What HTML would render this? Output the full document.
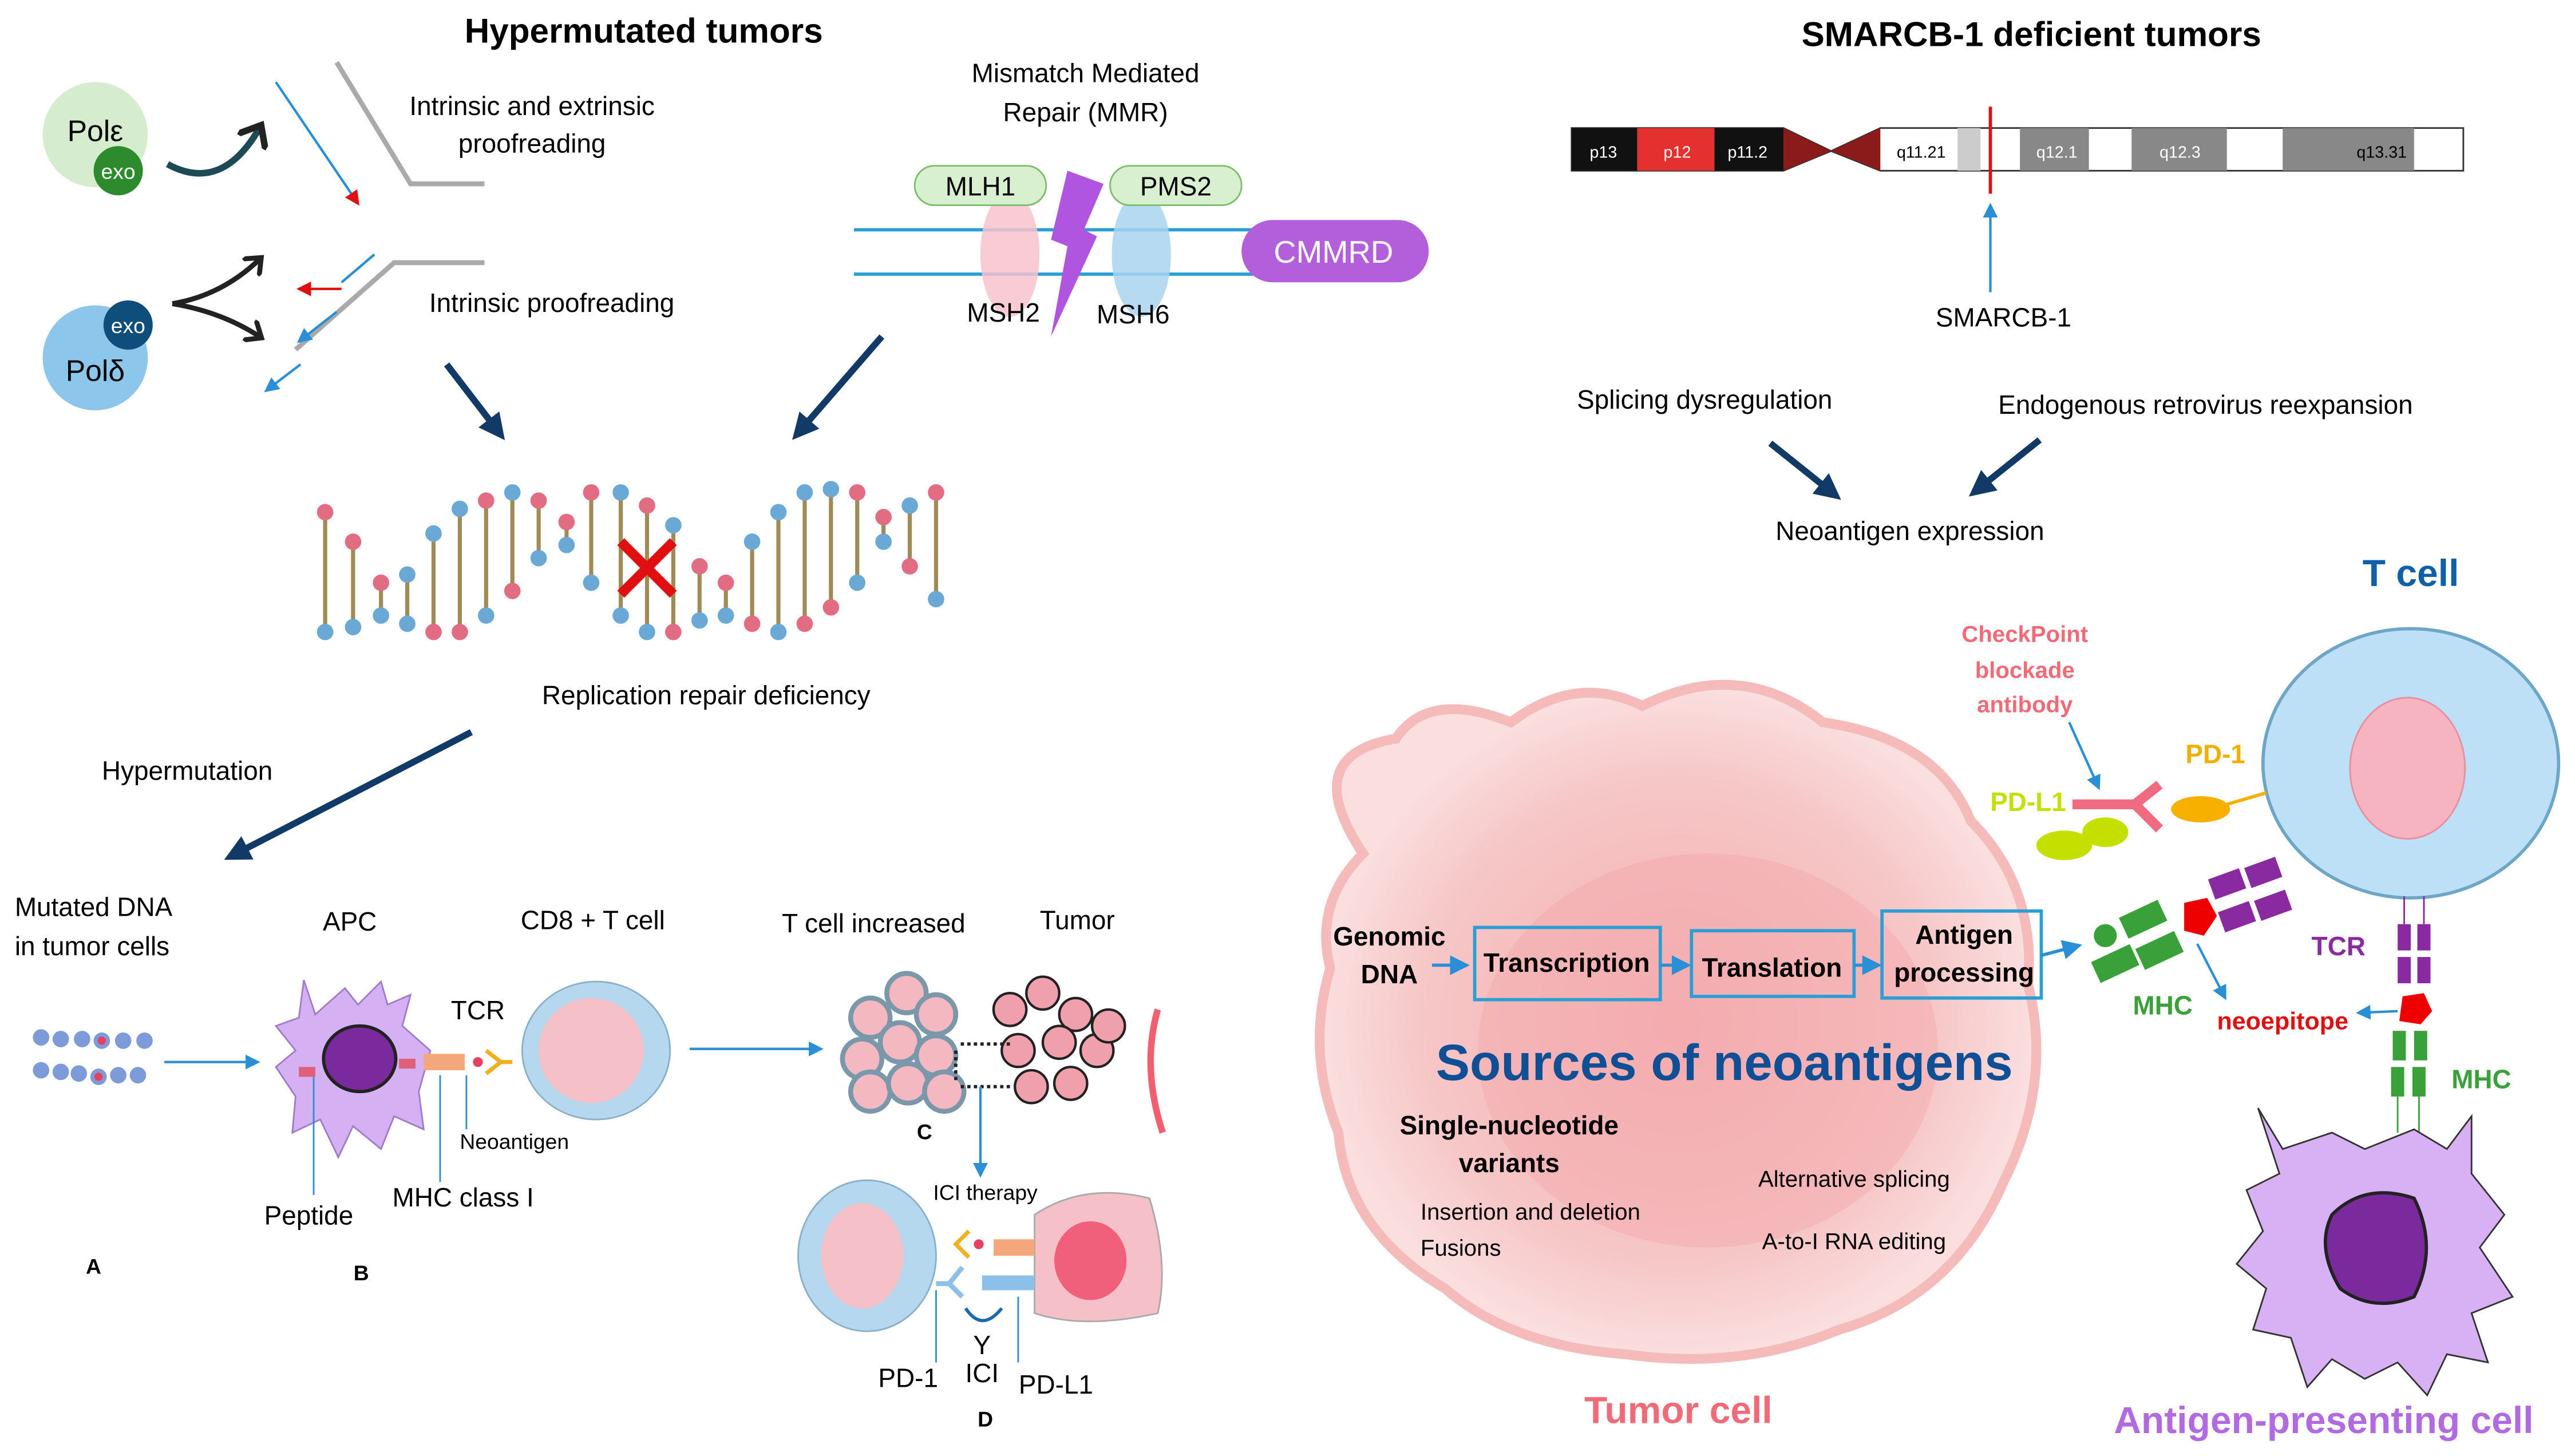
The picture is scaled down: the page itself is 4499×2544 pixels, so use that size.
<!DOCTYPE html>
<html><head><meta charset="utf-8"><style>html,body{margin:0;padding:0;background:#fff}svg{display:block}</style></head>
<body>
<svg width="4499" height="2544" viewBox="0 0 1568 887" preserveAspectRatio="none" xmlns="http://www.w3.org/2000/svg" font-family="Liberation Sans, sans-serif">
<defs>
<marker id="ab" markerWidth="6" markerHeight="6" refX="5" refY="3" orient="auto"><path d="M0,0L6,3L0,6z" fill="#2a8fd6"/></marker>
<marker id="ad" markerWidth="4" markerHeight="4" refX="3" refY="2" orient="auto"><path d="M0,0L4,2L0,4z" fill="#123a66"/></marker>
<marker id="ar" markerWidth="6" markerHeight="6" refX="5" refY="3" orient="auto"><path d="M0,0L6,3L0,6z" fill="#e01010"/></marker>
<marker id="ak" markerWidth="5" markerHeight="5" refX="2.5" refY="2.5" orient="auto"><path d="M0,0L3,2.5L0,5" stroke="#222" stroke-width="1" fill="none"/></marker>
<radialGradient id="tg" cx="0.5" cy="0.5" r="0.5"><stop offset="0" stop-color="#f4a6a8"/><stop offset="0.7" stop-color="#f6c0c0"/><stop offset="1" stop-color="#fbdcdc"/></radialGradient>
</defs>
<text x="392" y="26" font-size="21" font-weight="bold" text-anchor="middle">Hypermutated tumors</text>
<text x="1237" y="28" font-size="21" font-weight="bold" text-anchor="middle">SMARCB-1 deficient tumors</text>
<circle cx="58" cy="82" r="32" fill="#d5eccf"/><text x="58" y="86" font-size="18" text-anchor="middle">Polε</text>
<circle cx="72" cy="104" r="15" fill="#2d8a2d"/><text x="72" y="109" font-size="13" fill="#fff" text-anchor="middle">exo</text>
<path d="M102,100 Q135,118 158,78" stroke="#1d4a55" stroke-width="4" fill="none" marker-end="url(#ak)"/>
<circle cx="58" cy="218" r="32" fill="#8cc6ea"/><text x="58" y="232" font-size="18" text-anchor="middle">Polδ</text>
<circle cx="78" cy="198" r="15" fill="#0f4d7a"/><text x="78" y="203" font-size="13" fill="#fff" text-anchor="middle">exo</text>
<path d="M105,185 Q135,180 158,158 M105,185 Q135,190 158,205" stroke="#222" stroke-width="3" fill="none" marker-end="url(#ak)"/>
<path d="M105,185 Q135,180 158,158" stroke="#222" stroke-width="3" fill="none" marker-end="url(#ak)"/>
<path d="M205,38L250,112L295,112M180,213L240,160L295,160" stroke="#aaa" stroke-width="3" fill="none"/>
<line x1="168" y1="50" x2="218" y2="124" stroke="#2a8fd6" stroke-width="1.5" marker-end="url(#ar)"/>
<line x1="208" y1="176" x2="182" y2="176" stroke="#e01010" stroke-width="1.5" marker-end="url(#ar)"/>
<line x1="228" y1="155" x2="208" y2="172" stroke="#2a8fd6" stroke-width="1.5"/>
<line x1="205" y1="190" x2="182" y2="208" stroke="#2a8fd6" stroke-width="1.5" marker-end="url(#ab)"/>
<line x1="183" y1="222" x2="162" y2="238" stroke="#2a8fd6" stroke-width="1.5" marker-end="url(#ab)"/>
<text x="324" y="70" font-size="16" text-anchor="middle">Intrinsic and extrinsic</text>
<text x="324" y="93" font-size="16" text-anchor="middle">proofreading</text>
<text x="336" y="190" font-size="16" text-anchor="middle">Intrinsic proofreading</text>
<text x="661" y="50" font-size="16" text-anchor="middle">Mismatch Mediated</text>
<text x="661" y="74" font-size="16" text-anchor="middle">Repair (MMR)</text>
<line x1="520" y1="140" x2="770" y2="140" stroke="#2a9fd6" stroke-width="2"/><line x1="520" y1="167" x2="770" y2="167" stroke="#2a9fd6" stroke-width="2"/>
<ellipse cx="615" cy="155" rx="18" ry="38" fill="#f8c2cc" opacity="0.85"/>
<ellipse cx="695" cy="155" rx="18" ry="38" fill="#a9d4ee" opacity="0.85"/>
<rect x="557" y="101" width="80" height="24" rx="12" fill="#d8f0d0" stroke="#7bbf6a"/><text x="597" y="119" font-size="16" text-anchor="middle">MLH1</text>
<rect x="676" y="101" width="80" height="24" rx="12" fill="#d8f0d0" stroke="#7bbf6a"/><text x="716" y="119" font-size="16" text-anchor="middle">PMS2</text>
<path d="M650,104L672,112L660,140L668,144L640,205L650,150L640,146z" fill="#b055e0"/>
<rect x="756" y="134" width="114" height="38" rx="19" fill="#b35fdc"/><text x="812" y="160" font-size="19" fill="#fff" text-anchor="middle">CMMRD</text>
<text x="611" y="196" font-size="16" text-anchor="middle">MSH2</text><text x="690" y="197" font-size="16" text-anchor="middle">MSH6</text>
<g stroke="#123a66" stroke-width="4" marker-end="url(#ad)">
<line x1="272" y1="222" x2="305" y2="265"/><line x1="537" y1="205" x2="485" y2="265"/>
<line x1="287" y1="446" x2="140" y2="522"/>
<line x1="1078" y1="270" x2="1118" y2="302"/><line x1="1242" y1="268" x2="1202" y2="300"/></g>
<g stroke="#a08a55" stroke-width="2.5">
<line x1="198" y1="312" x2="198" y2="385"/><line x1="215" y1="330" x2="215" y2="382"/><line x1="232" y1="355" x2="232" y2="375"/><line x1="248" y1="350" x2="248" y2="380"/><line x1="264" y1="325" x2="264" y2="385"/><line x1="280" y1="310" x2="280" y2="385"/><line x1="296" y1="305" x2="296" y2="375"/><line x1="312" y1="300" x2="312" y2="360"/><line x1="328" y1="305" x2="328" y2="340"/><line x1="345" y1="318" x2="345" y2="332"/><line x1="360" y1="300" x2="360" y2="355"/><line x1="378" y1="300" x2="378" y2="375"/><line x1="394" y1="308" x2="394" y2="385"/><line x1="410" y1="320" x2="410" y2="385"/><line x1="426" y1="345" x2="426" y2="378"/><line x1="442" y1="355" x2="442" y2="375"/><line x1="458" y1="330" x2="458" y2="380"/><line x1="474" y1="312" x2="474" y2="385"/><line x1="490" y1="300" x2="490" y2="380"/><line x1="506" y1="298" x2="506" y2="370"/><line x1="522" y1="300" x2="522" y2="355"/><line x1="538" y1="315" x2="538" y2="330"/><line x1="554" y1="308" x2="554" y2="345"/><line x1="570" y1="300" x2="570" y2="365"/></g>
<g fill="#e26d83"><circle cx="198" cy="312" r="5"/><circle cx="215" cy="330" r="5"/><circle cx="232" cy="355" r="5"/><circle cx="264" cy="385" r="5"/><circle cx="280" cy="385" r="5"/><circle cx="296" cy="305" r="5"/><circle cx="312" cy="360" r="5"/><circle cx="328" cy="305" r="5"/><circle cx="345" cy="318" r="5"/><circle cx="360" cy="300" r="5"/><circle cx="394" cy="308" r="5"/><circle cx="410" cy="385" r="5"/><circle cx="426" cy="345" r="5"/><circle cx="442" cy="355" r="5"/><circle cx="458" cy="380" r="5"/><circle cx="490" cy="380" r="5"/><circle cx="506" cy="370" r="5"/><circle cx="522" cy="300" r="5"/><circle cx="538" cy="315" r="5"/><circle cx="554" cy="345" r="5"/><circle cx="570" cy="300" r="5"/></g>
<g fill="#6aa8d6"><circle cx="198" cy="385" r="5"/><circle cx="215" cy="382" r="5"/><circle cx="232" cy="375" r="5"/><circle cx="248" cy="350" r="5"/><circle cx="248" cy="380" r="5"/><circle cx="264" cy="325" r="5"/><circle cx="280" cy="310" r="5"/><circle cx="296" cy="375" r="5"/><circle cx="312" cy="300" r="5"/><circle cx="328" cy="340" r="5"/><circle cx="345" cy="332" r="5"/><circle cx="360" cy="355" r="5"/><circle cx="378" cy="300" r="5"/><circle cx="378" cy="375" r="5"/><circle cx="394" cy="385" r="5"/><circle cx="410" cy="320" r="5"/><circle cx="426" cy="378" r="5"/><circle cx="442" cy="375" r="5"/><circle cx="458" cy="330" r="5"/><circle cx="474" cy="312" r="5"/><circle cx="474" cy="385" r="5"/><circle cx="490" cy="300" r="5"/><circle cx="506" cy="298" r="5"/><circle cx="522" cy="355" r="5"/><circle cx="538" cy="330" r="5"/><circle cx="554" cy="308" r="5"/><circle cx="570" cy="365" r="5"/></g>
<path d="M378,330L410,362M410,330L378,362" stroke="#e01010" stroke-width="6"/>
<text x="430" y="429" font-size="16" text-anchor="middle">Replication repair deficiency</text>
<text x="114" y="475" font-size="16" text-anchor="middle">Hypermutation</text>
<text x="9" y="558" font-size="16">Mutated DNA</text><text x="9" y="582" font-size="16">in tumor cells</text>
<text x="213" y="567" font-size="16" text-anchor="middle">APC</text>
<text x="361" y="566" font-size="16" text-anchor="middle">CD8 + T cell</text>
<text x="532" y="568" font-size="16" text-anchor="middle">T cell increased</text>
<text x="656" y="566" font-size="16" text-anchor="middle">Tumor</text>
<g fill="#7d9bd8"><circle cx="25" cy="632" r="5"/><circle cx="37" cy="633" r="5"/><circle cx="50" cy="633" r="5"/><circle cx="75" cy="634" r="5"/><circle cx="88" cy="634" r="5"/><circle cx="25" cy="652" r="5"/><circle cx="37" cy="653" r="5"/><circle cx="48" cy="654" r="5"/><circle cx="72" cy="655" r="5"/><circle cx="84" cy="655" r="5"/><circle cx="62" cy="634" r="5"/><circle cx="60" cy="656" r="5"/></g>
<circle cx="62" cy="634" r="2.5" fill="#e84060"/><circle cx="60" cy="656" r="2.5" fill="#e84060"/>
<line x1="100" y1="647" x2="157" y2="647" stroke="#2a8fd6" stroke-width="1.5" marker-end="url(#ab)"/>
<path d="M185,597 L192,618 L210,602 L218,612 L232,598 L236,612 L250,606 L245,625 L262,640 L255,665 L258,688 L240,680 L232,700 L215,686 L206,705 L195,682 L178,690 L180,668 L168,650 L180,640 L168,625 L182,620z" fill="#d5b0f2" stroke="#a07cc8"/>
<ellipse cx="219" cy="645" rx="22" ry="20" fill="#7a2a9c" stroke="#222" stroke-width="2"/>
<rect x="182" y="650" width="10" height="6" fill="#e0607a"/><rect x="243" y="645" width="10" height="6" fill="#e0607a"/>
<rect x="258" y="642" width="25" height="10" fill="#f4a77a"/><circle cx="291" cy="647" r="3" fill="#e84060"/>
<path d="M296,640 L305,647 L296,654 M305,647 L312,647" stroke="#f0b020" stroke-width="2.5" fill="none"/>
<ellipse cx="363" cy="640" rx="45" ry="42" fill="#b5d8ee" stroke="#8ab0cc"/><ellipse cx="360" cy="640" rx="32" ry="32" fill="#f6c0c8"/>
<text x="291" y="621" font-size="16" text-anchor="middle">TCR</text>
<line x1="191" y1="656" x2="191" y2="728" stroke="#2a8fd6"/><line x1="268" y1="655" x2="268" y2="720" stroke="#2a8fd6"/><line x1="284" y1="655" x2="284" y2="688" stroke="#2a8fd6"/>
<text x="280" y="700" font-size="13">Neoantigen</text>
<text x="188" y="746" font-size="16" text-anchor="middle">Peptide</text>
<text x="282" y="735" font-size="16" text-anchor="middle">MHC class I</text>
<text x="57" y="776" font-size="13" font-weight="bold" text-anchor="middle">A</text>
<text x="220" y="780" font-size="13" font-weight="bold" text-anchor="middle">B</text>
<line x1="420" y1="639" x2="500" y2="639" stroke="#2a8fd6" stroke-width="1.5" marker-end="url(#ab)"/>
<g fill="#f4b8c0" stroke="#7a98aa" stroke-width="3">
<circle cx="530" cy="620" r="12"/><circle cx="552" cy="605" r="12"/><circle cx="570" cy="618" r="12"/><circle cx="525" cy="645" r="12"/><circle cx="548" cy="635" r="12"/><circle cx="570" cy="643" r="12"/><circle cx="530" cy="665" r="12"/><circle cx="553" cy="660" r="12"/><circle cx="575" cy="665" r="12"/></g>
<g fill="#f0a0ac" stroke="#222" stroke-width="1.5">
<circle cx="615" cy="615" r="10"/><circle cx="635" cy="605" r="10"/><circle cx="655" cy="618" r="10"/><circle cx="620" cy="640" r="10"/><circle cx="645" cy="635" r="10"/><circle cx="668" cy="640" r="10"/><circle cx="628" cy="662" r="10"/><circle cx="652" cy="660" r="10"/><circle cx="675" cy="625" r="10"/></g>
<path d="M705,615 Q695,650 708,690" stroke="#f06070" stroke-width="4" fill="none"/>
<path d="M585,636H615M585,662H615M582,640V660" stroke="#222" stroke-dasharray="2 2" stroke-width="2"/>
<text x="563" y="694" font-size="13" font-weight="bold" text-anchor="middle">C</text>
<line x1="597" y1="662" x2="597" y2="716" stroke="#2a8fd6" stroke-width="1.5" marker-end="url(#ab)"/>
<text x="600" y="731" font-size="13" text-anchor="middle">ICI therapy</text>
<ellipse cx="528" cy="765" rx="42" ry="46" fill="#b5d8ee" stroke="#8ab0cc"/><ellipse cx="525" cy="765" rx="25" ry="32" fill="#f6c0c8"/>
<path d="M630,740 Q660,720 700,730 Q712,770 705,800 Q660,810 630,800z" fill="#f6c0c8" stroke="#aaa"/><ellipse cx="664" cy="768" rx="22" ry="24" fill="#f0607a"/>
<rect x="605" y="755" width="25" height="10" fill="#f4a77a"/><circle cx="596" cy="758" r="3" fill="#e84060"/>
<path d="M590,750 L582,758 L590,766" stroke="#f0b020" stroke-width="2.5" fill="none"/>
<rect x="598" y="777" width="32" height="9" fill="#8cc0e8"/><path d="M586,772 L578,782 L586,790 M578,782 L570,782" stroke="#8cc0e8" stroke-width="3" fill="none"/>
<path d="M588,797 Q598,812 610,797" stroke="#1d6ab0" stroke-width="2" fill="none"/>
<line x1="570" y1="786" x2="570" y2="830" stroke="#2a8fd6"/><line x1="620" y1="790" x2="620" y2="830" stroke="#2a8fd6"/>
<text x="598" y="825" font-size="16" text-anchor="middle">Y</text>
<text x="553" y="845" font-size="16" text-anchor="middle">PD-1</text><text x="598" y="842" font-size="16" text-anchor="middle">ICI</text><text x="643" y="849" font-size="16" text-anchor="middle">PD-L1</text>
<text x="600" y="869" font-size="13" font-weight="bold" text-anchor="middle">D</text>
<path d="M957,78H1086L1115,92L1145,78H1500V104H1145L1115,92L1086,104H957z" fill="#fff" stroke="#333"/>
<rect x="957" y="78" width="40" height="26" fill="#111"/><rect x="997" y="78" width="47" height="26" fill="#e53030"/><rect x="1044" y="78" width="42" height="26" fill="#111"/>
<path d="M1086,78L1115,92L1086,104z M1145,78L1115,92L1145,104z" fill="#8b1a1a"/>
<rect x="1192" y="78" width="14" height="26" fill="#ccc"/><rect x="1230" y="78" width="42" height="26" fill="#888"/><rect x="1298" y="78" width="58" height="26" fill="#888"/><rect x="1390" y="78" width="80" height="26" fill="#888"/>
<g font-size="10" fill="#fff"><text x="968" y="96">p13</text><text x="1013" y="96">p12</text><text x="1052" y="96">p11.2</text><text x="1240" y="96">q12.1</text><text x="1315" y="96">q12.3</text><text x="1435" y="96" fill="#000">q13.31</text></g>
<text x="1155" y="96" font-size="10">q11.21</text>
<line x1="1212" y1="65" x2="1212" y2="118" stroke="#e01010" stroke-width="2"/>
<line x1="1212" y1="178" x2="1212" y2="125" stroke="#2a8fd6" stroke-width="1.5" marker-end="url(#ab)"/>
<text x="1220" y="199" font-size="16" text-anchor="middle">SMARCB-1</text>
<text x="1038" y="249" font-size="16" text-anchor="middle">Splicing dysregulation</text>
<text x="1343" y="252" font-size="16" text-anchor="middle">Endogenous retrovirus reexpansion</text>
<text x="1163" y="329" font-size="16" text-anchor="middle">Neoantigen expression</text>
<path d="M830,520 Q790,460 850,450 Q870,420 920,440 Q960,410 1000,430 Q1060,400 1110,440 Q1180,450 1200,500 Q1240,540 1235,600 Q1250,660 1220,720 Q1190,790 1120,810 Q1060,835 990,825 Q920,820 880,785 Q820,750 815,690 Q795,640 810,590 Q800,550 830,520z" fill="url(#tg)" stroke="#f5b4b4" stroke-width="6" opacity="0.9"/>
<ellipse cx="1040" cy="640" rx="140" ry="120" fill="#f4a8ac" opacity="0.45"/>
<text x="846" y="576" font-size="16" font-weight="bold" text-anchor="middle">Genomic</text><text x="846" y="599" font-size="16" font-weight="bold" text-anchor="middle">DNA</text>
<line x1="872" y1="588" x2="893" y2="588" stroke="#2a8fd6" stroke-width="2" marker-end="url(#ab)"/>
<rect x="898" y="565" width="113" height="44" fill="none" stroke="#2a9fd6" stroke-width="2"/><text x="954" y="592" font-size="16" font-weight="bold" text-anchor="middle">Transcription</text>
<line x1="1011" y1="588" x2="1028" y2="588" stroke="#2a8fd6" stroke-width="2" marker-end="url(#ab)"/>
<rect x="1030" y="567" width="99" height="40" fill="none" stroke="#2a9fd6" stroke-width="2"/><text x="1079" y="595" font-size="16" font-weight="bold" text-anchor="middle">Translation</text>
<line x1="1129" y1="588" x2="1144" y2="588" stroke="#2a8fd6" stroke-width="2" marker-end="url(#ab)"/>
<rect x="1146" y="555" width="97" height="53" fill="none" stroke="#2a9fd6" stroke-width="2"/><text x="1196" y="575" font-size="16" font-weight="bold" text-anchor="middle">Antigen</text><text x="1196" y="598" font-size="16" font-weight="bold" text-anchor="middle">processing</text>
<line x1="1243" y1="582" x2="1266" y2="576" stroke="#2a8fd6" stroke-width="2" marker-end="url(#ab)"/>
<text x="1050" y="658" font-size="31" font-weight="bold" fill="#0f4f96" text-anchor="middle">Sources of neoantigens</text>
<text x="919" y="691" font-size="16" font-weight="bold" text-anchor="middle">Single-nucleotide</text><text x="919" y="714" font-size="16" font-weight="bold" text-anchor="middle">variants</text>
<text x="865" y="743" font-size="14">Insertion and deletion</text><text x="865" y="765" font-size="14">Fusions</text>
<text x="1129" y="723" font-size="14" text-anchor="middle">Alternative splicing</text><text x="1129" y="761" font-size="14" text-anchor="middle">A-to-I RNA editing</text>
<text x="1022" y="867" font-size="23" font-weight="bold" fill="#f06a78" text-anchor="middle">Tumor cell</text>
<text x="1468" y="357" font-size="23" font-weight="bold" fill="#1060a8" text-anchor="middle">T cell</text>
<ellipse cx="1468" cy="465" rx="90" ry="82" fill="#bde0f6" stroke="#6ea6c8" stroke-width="2"/>
<ellipse cx="1466" cy="468" rx="35" ry="43" fill="#f6b4c0" stroke="#e890a0"/>
<text x="1233" y="391" font-size="14" font-weight="bold" fill="#f06a78" text-anchor="middle">CheckPoint</text><text x="1233" y="413" font-size="14" font-weight="bold" fill="#f06a78" text-anchor="middle">blockade</text><text x="1233" y="434" font-size="14" font-weight="bold" fill="#f06a78" text-anchor="middle">antibody</text>
<line x1="1260" y1="440" x2="1278" y2="480" stroke="#2a8fd6" stroke-width="1.5" marker-end="url(#ab)"/>
<path d="M1262,490H1300L1315,478M1300,490L1315,505" stroke="#f06a80" stroke-width="6" fill="none"/>
<ellipse cx="1340" cy="493" rx="18" ry="8" fill="#f8b000"/><line x1="1356" y1="490" x2="1380" y2="483" stroke="#f8b000" stroke-width="2"/>
<text x="1349" y="465" font-size="16" font-weight="bold" fill="#f0b000" text-anchor="middle">PD-1</text>
<ellipse cx="1257" cy="515" rx="17" ry="9" fill="#c4e000"/><ellipse cx="1282" cy="507" rx="14" ry="9" fill="#c4e000"/>
<text x="1235" y="494" font-size="16" font-weight="bold" fill="#c4e000" text-anchor="middle">PD-L1</text>
<g fill="#3aa03a"><circle cx="1282" cy="570" r="7"/><rect x="1292" y="553" width="26" height="14" transform="rotate(-25 1305 560)"/><rect x="1275" y="580" width="26" height="14" transform="rotate(-25 1288 587)"/><rect x="1302" y="572" width="26" height="14" transform="rotate(-25 1315 579)"/></g>
<polygon points="1330,550 1344,547 1350,558 1342,570 1330,567" fill="#e00"/>
<g fill="#8a2aa0"><rect x="1346" y="532" width="20" height="13" transform="rotate(-20 1356 538)"/><rect x="1368" y="525" width="20" height="13" transform="rotate(-20 1378 531)"/><rect x="1352" y="552" width="20" height="13" transform="rotate(-20 1362 558)"/><rect x="1374" y="545" width="20" height="13" transform="rotate(-20 1384 551)"/></g>
<line x1="1338" y1="575" x2="1355" y2="608" stroke="#2a8fd6" stroke-width="1.5" marker-end="url(#ab)"/>
<text x="1317" y="618" font-size="16" font-weight="bold" fill="#3aa03a" text-anchor="middle">MHC</text>
<text x="1390" y="627" font-size="15" font-weight="bold" fill="#e01010" text-anchor="middle">neoepitope</text>
<text x="1424" y="582" font-size="16" font-weight="bold" fill="#8a2aa0" text-anchor="middle">TCR</text>
<line x1="1464" y1="546" x2="1464" y2="563" stroke="#8a2aa0"/><line x1="1476" y1="546" x2="1476" y2="563" stroke="#8a2aa0"/>
<g fill="#8a2aa0"><rect x="1460" y="563" width="8" height="16"/><rect x="1472" y="563" width="8" height="16"/><rect x="1460" y="583" width="8" height="16"/><rect x="1472" y="583" width="8" height="16"/></g>
<polygon points="1463,607 1476,605 1481,616 1474,624 1461,622" fill="#e00"/>
<line x1="1460" y1="616" x2="1436" y2="617" stroke="#2a8fd6" stroke-width="1.5" marker-end="url(#ab)"/>
<g fill="#3aa03a"><rect x="1457" y="628" width="8" height="18"/><rect x="1470" y="628" width="8" height="18"/><rect x="1456" y="650" width="8" height="18"/><rect x="1469" y="650" width="8" height="18"/></g>
<line x1="1460" y1="668" x2="1460" y2="690" stroke="#3aa03a"/><line x1="1473" y1="668" x2="1473" y2="690" stroke="#3aa03a"/>
<text x="1511" y="663" font-size="16" font-weight="bold" fill="#3aa03a" text-anchor="middle">MHC</text>
<path d="M1375,675 L1390,700 L1420,690 L1440,700 L1470,688 L1490,700 L1505,680 L1505,715 L1525,740 L1510,760 L1530,790 L1505,800 L1515,830 L1490,825 L1478,850 L1460,830 L1440,840 L1420,828 L1405,845 L1395,815 L1372,810 L1380,785 L1362,770 L1378,750 L1368,725 L1388,715z" fill="#d8b0f4" stroke="#333" stroke-width="1"/>
<path d="M1420,740 Q1440,720 1470,730 Q1485,760 1470,790 Q1445,800 1425,785 Q1410,760 1420,740z" fill="#7a2a9c" stroke="#222" stroke-width="2"/>
<text x="1415" y="873" font-size="23" font-weight="bold" fill="#b26ae0" text-anchor="middle">Antigen-presenting cell</text>
</svg>
</body></html>
